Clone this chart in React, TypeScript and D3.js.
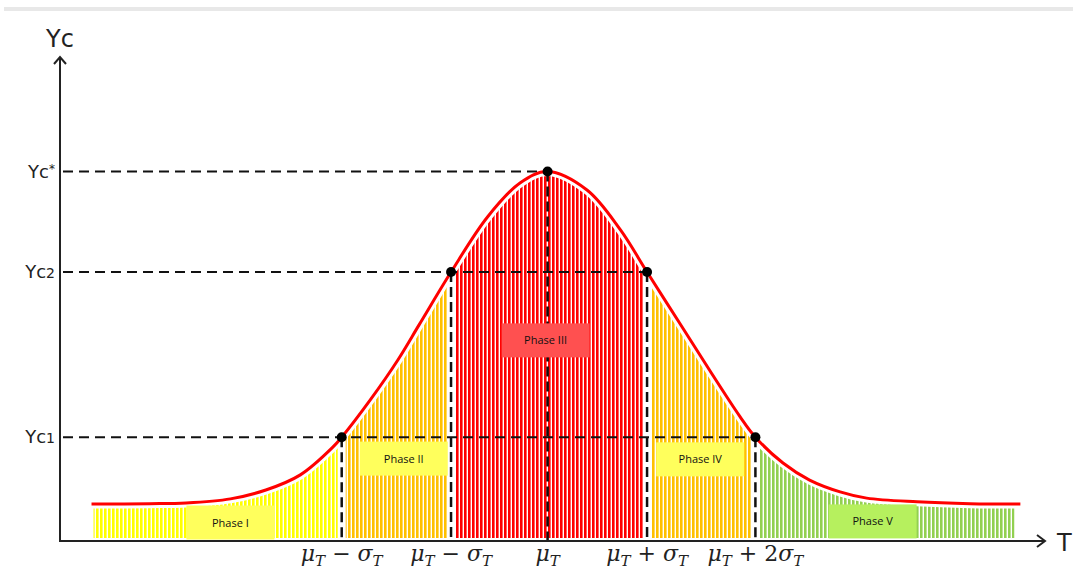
import * as d3 from 'd3';
import React from 'react';

// Curve (T in axis units 0–100, Yc with Yc* = 100)
const curveT = [3.2, 9.1, 12.8, 17.3, 20.9, 24.4, 27.7, 28.6, 31.5, 34.3, 36.5, 39.7, 43.4, 46.7, 49.5, 53.5, 56.9, 59.6, 62.9, 66.0, 69.0, 70.6, 73.4, 76.1, 79.2, 81.9, 87.0, 92.4, 97.5];
const curveYc = [10.0, 10.1, 10.3, 11.4, 13.8, 17.9, 25.4, 28.1, 38.2, 49.0, 58.7, 72.8, 87.7, 96.9, 100, 95.0, 84.2, 72.8, 59.0, 46.0, 33.8, 28.1, 21.1, 16.5, 13.3, 11.6, 10.6, 10.1, 10.0];

// Marked points
const keyT = [28.6, 39.7, 49.5, 59.6, 70.6];
const keyYc = [28.1, 72.8, 100, 72.8, 28.1];
const tickLabels = ['μT − σT', 'μT − σT', 'μT', 'μT + σT', 'μT + 2σT'];

// Reference levels on the Yc axis
const levelNames = ['Yc*', 'Yc2', 'Yc1'];
const levelYc = [100, 72.8, 28.1];
const levelEndT = [49.5, 59.6, 70.6];

// Phases
const phaseNames = ['Phase I', 'Phase II', 'Phase III', 'Phase IV', 'Phase V'];
const phaseStartT = [3.2, 28.6, 39.7, 59.6, 70.6];
const phaseEndT = [28.6, 39.7, 59.6, 70.6, 97.3];
const phaseLabelT = [17.3, 34.9, 49.3, 65.0, 82.5];
const phaseLabelYc = [5.0, 22.3, 54.3, 22.1, 5.3];
const phaseColors = ['#ffff00', '#ffc000', '#ff0000', '#ffc000', '#92d050'];
const phaseBoxColors = ['#ffff5c', '#ffff5c', '#ff5050', '#ffff5c', '#b6f05e'];

const W = 1073;
const H = 569;
const AXIS = '#222';

const x = d3.scaleLinear().domain([0, 100]).range([60, 1045]);
const y = d3.scaleLinear().domain([0, 131]).range([541, 57]);

const pts: [number, number][] = curveT.map((t, i) => [t, curveYc[i]]);

const line = d3
  .line<[number, number]>()
  .x((d) => x(d[0]))
  .y((d) => y(d[1]))
  .curve(d3.curveCatmullRom.alpha(0.5));

const area = d3
  .area<[number, number]>()
  .x((d) => x(d[0]))
  .y0(y(0) - 3)
  .y1((d) => y(d[1]))
  .curve(d3.curveCatmullRom.alpha(0.5));

// math-style label: μ, σ italic, T as italic subscript
function mathLabel(s: string) {
  let sub = false;
  return s.split('').map((ch, i) => {
    if (ch === 'T') {
      const dy = sub ? 0 : 5;
      sub = true;
      return (
        <tspan key={i} dy={dy} fontSize={15} fontStyle="italic">
          T
        </tspan>
      );
    }
    const dy = sub ? -5 : 0;
    sub = false;
    const italic = ch === 'μ' || ch === 'σ';
    return (
      <tspan key={i} dy={dy} fontStyle={italic ? 'italic' : 'normal'}>
        {ch}
      </tspan>
    );
  });
}

function levelLabel(s: string) {
  const tail = s.slice(2);
  return (
    <>
      <tspan>Yc</tspan>
      {tail === '*' ? (
        <tspan fontSize={12} dy={-5}>*</tspan>
      ) : (
        <tspan fontSize={14}>{tail}</tspan>
      )}
    </>
  );
}

export default function App() {
  const gap = 4;
  const boxW = 88;
  const boxH = 34;

  return (
    <svg
      width={W}
      height={H}
      style={{ position: 'absolute', left: 0, top: 0, background: '#fff' }}
      fontFamily="DejaVu Sans, sans-serif"
    >
      <defs>
        {phaseColors.map((c, i) => (
          <pattern
            key={i}
            id={`stripe-${i}`}
            patternUnits="userSpaceOnUse"
            width={4}
            height={10}
          >
            <rect x={0} y={0} width={2.6} height={10} fill={c} />
          </pattern>
        ))}
        {phaseStartT.map((t, i) => (
          <clipPath key={i} id={`clip-${i}`}>
            <rect
              x={x(t) + (i === 0 ? 2 : gap)}
              y={0}
              width={x(phaseEndT[i]) - x(t) - (i === 0 ? 2 : gap) - gap}
              height={H}
            />
          </clipPath>
        ))}
      </defs>

      {/* top grey band */}
      <rect x={4} y={7} width={W - 4} height={4} fill="#e8e8e8" />

      {/* striped areas per phase */}
      {phaseStartT.map((_, i) => (
        <path
          key={i}
          d={area(pts) || ''}
          fill={`url(#stripe-${i})`}
          clipPath={`url(#clip-${i})`}
        />
      ))}

      {/* white halo under curve */}
      <path d={line(pts) || ''} fill="none" stroke="#fff" strokeWidth={9} />

      {/* horizontal dashed levels */}
      {levelYc.map((v, i) => (
        <line
          key={i}
          x1={63}
          x2={x(levelEndT[i])}
          y1={y(v)}
          y2={y(v)}
          stroke="#111"
          strokeWidth={2}
          strokeDasharray="10 6"
        />
      ))}

      {/* vertical dashed lines */}
      {keyT.map((t, i) => (
        <line
          key={i}
          x1={x(t)}
          x2={x(t)}
          y1={y(keyYc[i])}
          y2={y(0)}
          stroke="#111"
          strokeWidth={2.5}
          strokeDasharray="10 5"
        />
      ))}

      {/* phase boxes */}
      {phaseNames.map((n, i) => (
        <g key={n}>
          <rect
            x={x(phaseLabelT[i]) - boxW / 2}
            y={y(phaseLabelYc[i]) - boxH / 2}
            width={boxW}
            height={boxH}
            fill={phaseBoxColors[i]}
          />
          <text
            x={x(phaseLabelT[i])}
            y={y(phaseLabelYc[i]) + 4}
            textAnchor="middle"
            fontSize={11}
            fontFamily="Open Sans, sans-serif"
            fill="#111"
          >
            {n}
          </text>
        </g>
      ))}

      {/* red curve */}
      <path d={line(pts) || ''} fill="none" stroke="#ff0000" strokeWidth={3} />

      {/* key points */}
      {keyT.map((t, i) => (
        <circle key={i} cx={x(t)} cy={y(keyYc[i])} r={5} fill="#000" />
      ))}

      {/* axes */}
      <line x1={x(0)} x2={x(0)} y1={y(0) + 1} y2={y(131)} stroke={AXIS} strokeWidth={2} />
      <polyline
        points={`${x(0) - 6},${y(131) + 7} ${x(0)},${y(131)} ${x(0) + 6},${y(131) + 7}`}
        fill="none"
        stroke={AXIS}
        strokeWidth={2}
      />
      <line x1={x(0) - 1} x2={x(100)} y1={y(0)} y2={y(0)} stroke={AXIS} strokeWidth={2} />
      <polyline
        points={`${x(100) - 8},${y(0) - 6} ${x(100)},${y(0)} ${x(100) - 8},${y(0) + 6}`}
        fill="none"
        stroke={AXIS}
        strokeWidth={2}
      />

      {/* axis titles */}
      <text x={x(0)} y={47} textAnchor="middle" fontSize={24} fill="#222">
        Yc
      </text>
      <text x={1057} y={551} fontSize={24} fill="#222">
        T
      </text>

      {/* level labels */}
      {levelNames.map((n, i) => (
        <text
          key={n}
          x={55}
          y={y(levelYc[i]) + 6}
          textAnchor="end"
          fontSize={18}
          fill="#222"
        >
          {levelLabel(n)}
        </text>
      ))}

      {/* tick labels */}
      {tickLabels.map((s, i) => (
        <text
          key={i}
          x={x(keyT[i])}
          y={561}
          textAnchor="middle"
          fontSize={22}
          fontFamily="DejaVu Serif, serif"
          fill="#222"
          style={{ whiteSpace: 'pre' }}
        >
          {mathLabel(s)}
        </text>
      ))}
    </svg>
  );
}
